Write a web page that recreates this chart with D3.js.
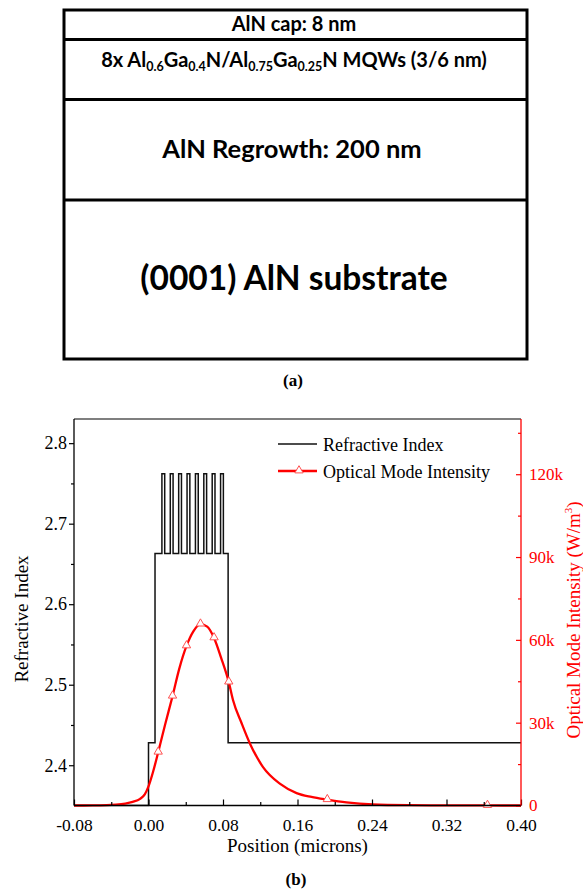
<!DOCTYPE html>
<html><head><meta charset="utf-8">
<script src="https://cdn.jsdelivr.net/npm/d3@7"></script>
<style>body{margin:0;background:#fff}</style>
</head><body>
<svg id="c" width="583" height="892"></svg>
<script>
// ---------- data ----------
const layerLabels = ["AlN cap: 8 nm", "MQW", "AlN Regrowth: 200 nm", "(0001) AlN substrate"];

const xTicks = [-0.08, 0.00, 0.08, 0.16, 0.24, 0.32, 0.40];
const xMinorTicks = [-0.04, 0.04, 0.12, 0.20, 0.28, 0.36];
const riTicks = [2.4, 2.5, 2.6, 2.7, 2.8];
const riMinorTicks = [2.45, 2.55, 2.65, 2.75];
const intTicks = [0, 30000, 60000, 90000, 120000];
const intTickLabels = ["0", "30k", "60k", "90k", "120k"];
const intMinorTicks = [15000, 45000, 75000, 105000, 135000];

// refractive index step profile (layer start position in microns, index)
const layerStart = [-0.08, 0.000, 0.007, 0.0144, 0.0174, 0.0234, 0.0264, 0.0324, 0.0354, 0.0414, 0.0444,
                    0.0504, 0.0534, 0.0594, 0.0624, 0.0684, 0.0714, 0.0774, 0.0804, 0.0855, 0.40];
const layerIndex = [2.35, 2.428, 2.663, 2.762, 2.663, 2.762, 2.663, 2.762, 2.663, 2.762, 2.663,
                    2.762, 2.663, 2.762, 2.663, 2.762, 2.663, 2.762, 2.663, 2.428, 2.428];

// optical mode intensity (position microns, W/m^3)
const intPos = [-0.08, -0.06, -0.045, -0.035, -0.025, -0.017, -0.009, -0.004, 0.000, 0.005, 0.0104,
                0.018, 0.0258, 0.033, 0.0408, 0.048, 0.0558, 0.063, 0.0704, 0.078, 0.0862, 0.0908,
                0.100, 0.109, 0.123, 0.141, 0.159, 0.175, 0.192, 0.2125, 0.241, 0.28, 0.32, 0.36, 0.40];
const intVal = [0, 20, 100, 300, 700, 1300, 2400, 4000, 6900, 12300, 19300,
                29500, 39600, 49500, 57800, 63000, 65700, 64800, 60700, 53500, 44700, 38100,
                29800, 22400, 13900, 7900, 4500, 3100, 2100, 1100, 360, 100, 30, 10, 0];
// marker positions
const markPos = [0.0104, 0.0258, 0.0408, 0.0558, 0.0704, 0.0862, 0.192, 0.364];
const markVal = [19300, 39600, 57800, 65700, 60700, 44700, 2100, 0];

// ---------- drawing ----------
const svg = d3.select("#c");
const RED = "#ff0000";

// ----- (a) layer schematic -----
const boxL = 64, boxR = 527;
const boxY = [10, 39.5, 99.5, 200, 359];
const gA = svg.append("g");
gA.append("rect").attr("x", boxL).attr("y", boxY[0]).attr("width", boxR - boxL)
  .attr("height", boxY[4] - boxY[0]).attr("fill", "none").attr("stroke", "#000").attr("stroke-width", 3);
boxY.slice(1, 4).forEach(y => gA.append("line").attr("x1", boxL).attr("x2", boxR)
  .attr("y1", y).attr("y2", y).attr("stroke", "#000").attr("stroke-width", 3));
const cx = 294;
const tf = "Lato, 'Open Sans', sans-serif";
gA.append("text").attr("x", cx).attr("y", 31).attr("text-anchor", "middle")
  .attr("font-family", tf).attr("font-weight", 700).attr("font-size", 20).text(layerLabels[0]);
const mq = gA.append("text").attr("x", cx).attr("y", 67).attr("text-anchor", "middle")
  .attr("font-family", tf).attr("font-weight", 700).attr("font-size", 20);
[["8x Al", false], ["0.6", true], ["Ga", false], ["0.4", true], ["N/Al", false], ["0.75", true],
 ["Ga", false], ["0.25", true], ["N MQWs (3/6 nm)", false]].forEach(([t, sub]) => {
  const ts = mq.append("tspan").text(t);
  if (sub) ts.attr("font-size", 12.5).attr("dy", 3.5);
  else ts.attr("dy", -3.5);
});
mq.select("tspan").attr("dy", 0);
gA.append("text").attr("x", cx - 2).attr("y", 158).attr("text-anchor", "middle")
  .attr("font-family", tf).attr("font-weight", 700).attr("font-size", 25.5).text(layerLabels[2]);
gA.append("text").attr("x", cx).attr("y", 290).attr("text-anchor", "middle")
  .attr("font-family", tf).attr("font-weight", 700).attr("font-size", 33.5).text(layerLabels[3]);
svg.append("text").attr("x", 293).attr("y", 386).attr("text-anchor", "middle")
  .attr("font-family", "'Liberation Serif', serif").attr("font-weight", 700).attr("font-size", 17).text("(a)");
svg.append("text").attr("x", 296).attr("y", 885).attr("text-anchor", "middle")
  .attr("font-family", "'Liberation Serif', serif").attr("font-weight", 700).attr("font-size", 17).text("(b)");

// ----- (b) plot -----
const L = 74, R = 521, T = 419, B = 805.5;
const x = d3.scaleLinear().domain([-0.08, 0.40]).range([L, R]);
const yL = d3.scaleLinear().domain([2.35, 2.83]).range([B, T]);
const yR = d3.scaleLinear().domain([0, 140000]).range([B, T]);
const sf = "'Liberation Serif', 'Times New Roman', serif";

const gP = svg.append("g");
svg.append("clipPath").attr("id", "clip").append("rect").attr("x", L).attr("y", T).attr("width", R - L).attr("height", B - T + 1);

// refractive index
const riData = layerStart.map((p, i) => [p, layerIndex[i]]);
gP.append("path").datum(riData).attr("clip-path", "url(#clip)")
  .attr("d", d3.line().x(d => x(d[0])).y(d => yL(d[1])).curve(d3.curveStepAfter))
  .attr("fill", "none").attr("stroke", "#111").attr("stroke-width", 1.5);

// intensity
const inData = intPos.map((p, i) => [p, intVal[i]]);
gP.append("path").datum(inData)
  .attr("d", d3.line().x(d => x(d[0])).y(d => yR(d[1])).curve(d3.curveMonotoneX))
  .attr("fill", "none").attr("stroke", RED).attr("stroke-width", 2.3);
const tri = d3.symbol().type(d3.symbolTriangle).size(30);
gP.selectAll("path.mk").data(markPos.map((p, i) => [p, markVal[i]])).join("path").attr("class", "mk")
  .attr("transform", d => `translate(${x(d[0])},${yR(d[1]) - 0.5})`)
  .attr("d", tri).attr("fill", "#fff").attr("stroke", "#ff5050").attr("stroke-width", 1);

// axes
function styleAxis(g, color, fs) {
  g.select(".domain").remove();
  g.selectAll("line").attr("stroke", color).attr("stroke-width", 1.2);
  g.selectAll("text").attr("fill", color).attr("font-family", sf).attr("font-size", fs);
}
const fmtX = d => d3.format(".2f")(d).replace("\u2212", "-");
const ax = svg.append("g").attr("transform", `translate(0,${B})`)
  .call(d3.axisBottom(x).tickValues(xTicks).tickSize(-6).tickPadding(12.6).tickFormat(fmtX));
styleAxis(ax, "#000", 17.5);
const axm = svg.append("g").attr("transform", `translate(0,${B})`)
  .call(d3.axisBottom(x).tickValues(xMinorTicks).tickSize(-3.5).tickFormat(""));
styleAxis(axm, "#000", 17.5);

const ayl = svg.append("g").attr("transform", `translate(${L},0)`)
  .call(d3.axisLeft(yL).tickValues(riTicks).tickSize(5).tickPadding(2).tickFormat(d3.format(".1f")));
styleAxis(ayl, "#000", 18);
const ayLm = svg.append("g").attr("transform", `translate(${L},0)`)
  .call(d3.axisLeft(yL).tickValues(riMinorTicks).tickSize(3).tickFormat(""));
styleAxis(ayLm, "#000", 18);

const ayr = svg.append("g").attr("transform", `translate(${R},0)`)
  .call(d3.axisRight(yR).tickValues(intTicks).tickSize(-5).tickPadding(8).tickFormat((d, i) => intTickLabels[i]));
styleAxis(ayr, RED, 17);
const ayrm = svg.append("g").attr("transform", `translate(${R},0)`)
  .call(d3.axisRight(yR).tickValues(intMinorTicks).tickSize(-3).tickFormat(""));
styleAxis(ayrm, RED, 17);

// frame
svg.append("line").attr("x1", L).attr("x2", R).attr("y1", T).attr("y2", T).attr("stroke", "#000").attr("stroke-width", 1.2);
svg.append("line").attr("x1", L).attr("x2", R).attr("y1", B).attr("y2", B).attr("stroke", "#000").attr("stroke-width", 1.3);
svg.append("line").attr("x1", L).attr("x2", L).attr("y1", T).attr("y2", B).attr("stroke", "#000").attr("stroke-width", 1.3);
svg.append("line").attr("x1", R).attr("x2", R).attr("y1", T).attr("y2", B).attr("stroke", RED).attr("stroke-width", 1.3);

// axis titles
svg.append("text").attr("x", (L + R) / 2).attr("y", 852).attr("text-anchor", "middle")
  .attr("font-family", sf).attr("font-size", 19).text("Position (microns)");
svg.append("text").attr("transform", `translate(28,${(555 + 683) / 2}) rotate(-90)`).attr("text-anchor", "middle")
  .attr("font-family", sf).attr("font-size", 19).text("Refractive Index");
const rt = svg.append("text").attr("transform", `translate(580,${(497 + 743) / 2}) rotate(-90)`).attr("text-anchor", "middle")
  .attr("font-family", sf).attr("font-size", 19).attr("fill", RED);
rt.append("tspan").text("Optical Mode Intensity (W/m");
rt.append("tspan").text("3").attr("font-size", 11).attr("dy", -8);
rt.append("tspan").text(")").attr("dy", 8);

// legend
const lg = svg.append("g");
lg.append("line").attr("x1", 278).attr("x2", 317).attr("y1", 444).attr("y2", 444).attr("stroke", "#111").attr("stroke-width", 1.5);
lg.append("text").attr("x", 323).attr("y", 450.5).attr("font-family", sf).attr("font-size", 18).text("Refractive Index");
lg.append("line").attr("x1", 278).attr("x2", 317).attr("y1", 471).attr("y2", 471).attr("stroke", RED).attr("stroke-width", 2.3);
lg.append("path").attr("transform", "translate(299,470.5)").attr("d", tri).attr("fill", "#fff").attr("stroke", "#ff5050").attr("stroke-width", 1);
lg.append("text").attr("x", 323).attr("y", 477.5).attr("font-family", sf).attr("font-size", 18).text("Optical Mode Intensity");
</script>
</body></html>
